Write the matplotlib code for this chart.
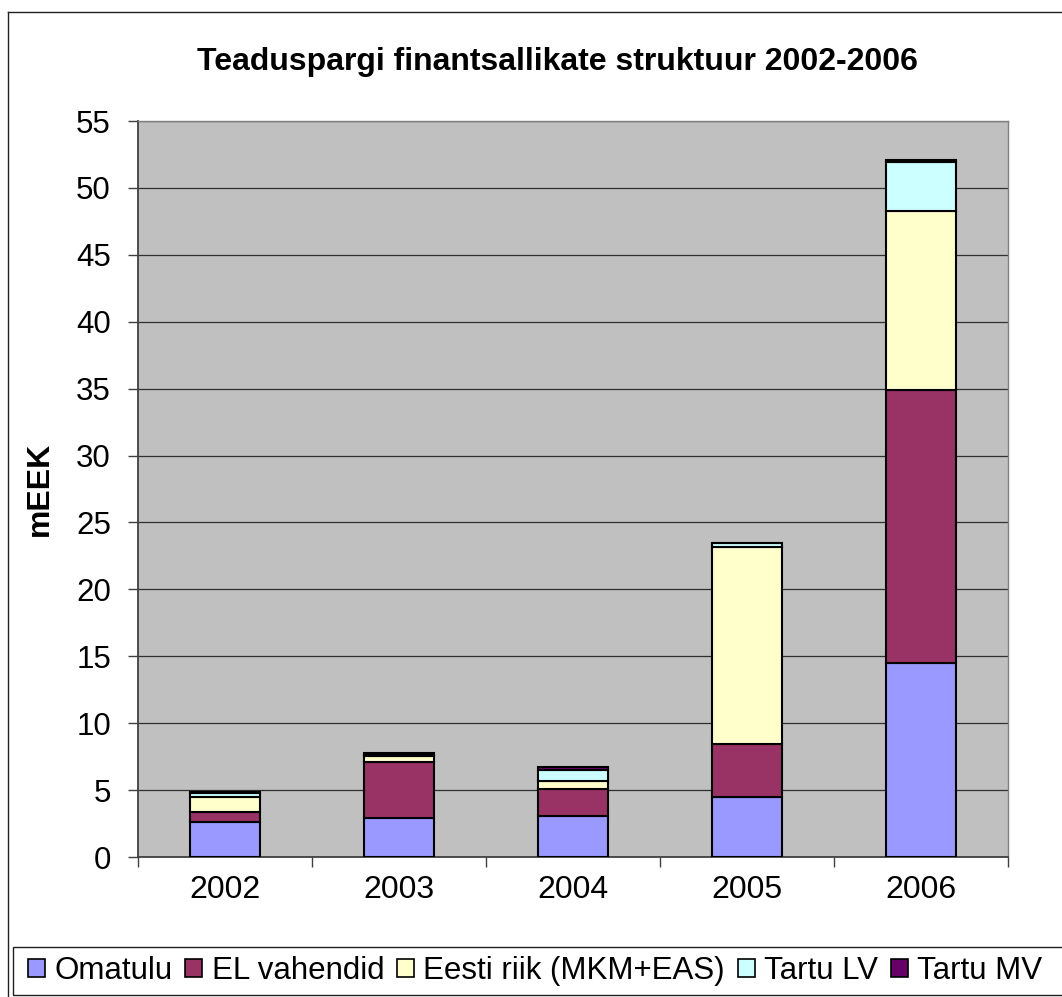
import matplotlib
matplotlib.use('Agg')

import matplotlib.pyplot as plt
from matplotlib.patches import Patch, Rectangle
from matplotlib.lines import Line2D

plt.rcParams['font.family'] = ['Liberation Sans', 'DejaVu Sans']

# ------------------------------------------------------------
# Andmed (mEEK)
# ------------------------------------------------------------
aastad = ["2002", "2003", "2004", "2005", "2006"]
omatulu = [2.64, 2.94, 3.09, 4.51, 14.5]
el_vahendid = [0.70, 4.15, 2.00, 3.97, 20.4]
eesti_riik = [1.15, 0.45, 0.60, 14.67, 13.4]
tartu_lv = [0.30, 0.05, 0.82, 0.28, 3.6]
tartu_mv = [0.03, 0.15, 0.20, 0.05, 0.2]

seeriad = ["Omatulu", "EL vahendid", "Eesti riik (MKM+EAS)", "Tartu LV", "Tartu MV"]
varvid = ["#9999FF", "#993366", "#FFFFCC", "#CCFFFF", "#660066"]

W, H = 1062, 997
fig = plt.figure(figsize=(W / 100, H / 100), dpi=100)

# raam ümber kogu graafiku
fig.add_artist(Line2D([8 / W, 8 / W], [1 - 12 / H, 0], color="#202020", lw=1.0))
fig.add_artist(Line2D([8 / W, 1], [1 - 12 / H, 1 - 12 / H], color="#202020", lw=1.0))

ax = fig.add_axes([138 / W, 1 - 857 / H, 870 / W, 736 / H])
ax.set_facecolor("#C0C0C0")

x = list(range(len(aastad)))
pohi = [0.0] * len(aastad)
for nimi, vaartused, varv in zip(seeriad, [omatulu, el_vahendid, eesti_riik, tartu_lv, tartu_mv], varvid):
    ax.bar(x, vaartused, width=0.4, bottom=pohi, color=varv, edgecolor="black",
           linewidth=1.5, label=nimi, zorder=3)
    pohi = [p + v for p, v in zip(pohi, vaartused)]

ax.set_xlim(-0.5, 4.5)
ax.set_ylim(0, 55)
ax.set_yticks(range(0, 56, 5))
ax.yaxis.grid(True, color="#303030", linewidth=0.9, zorder=1)
ax.set_axisbelow(True)

ax.set_xticks(x)
ax.set_xticklabels(aastad)
ax.set_xticks([i + 0.5 for i in range(-1, 5)], minor=True)
ax.tick_params(axis="x", which="major", length=0, pad=13, labelsize=23)
ax.tick_params(axis="x", which="minor", length=7, width=1, color="#404040", direction="out")
ax.tick_params(axis="y", length=7.5, width=1, color="#404040", direction="out", pad=12, labelsize=22.5)

for s in ["left", "bottom"]:
    ax.spines[s].set_color("#404040")
    ax.spines[s].set_linewidth(1.3)
for s in ["top", "right"]:
    ax.spines[s].set_color("#808080")
    ax.spines[s].set_linewidth(1.0)

fig.text(557 / W, 1 - 62 / H, "Teaduspargi finantsallikate struktuur 2002-2006",
         ha="center", va="center", fontsize=23, fontweight="bold")
fig.text(40 / W, 1 - 489 / H, "mEEK", rotation=90, ha="center", va="center",
         fontsize=23, fontweight="bold")

# legend all
fig.add_artist(Rectangle((13 / W, 1 - 995 / H), 1.1, 48 / H, transform=fig.transFigure,
                         fill=False, edgecolor="#202020", lw=1.0))
kaepidemed = [Patch(facecolor=v, edgecolor="black", linewidth=1.2) for v in varvid]
fig.legend(kaepidemed, seeriad, ncol=5, loc="center left",
           bbox_to_anchor=(28 / W, 1 - 971 / H), frameon=False, fontsize=22.5,
           handlelength=0.55, handleheight=0.55, handletextpad=0.3,
           columnspacing=0.4, borderaxespad=0, borderpad=0)

fig.savefig("out.png", dpi=100)
